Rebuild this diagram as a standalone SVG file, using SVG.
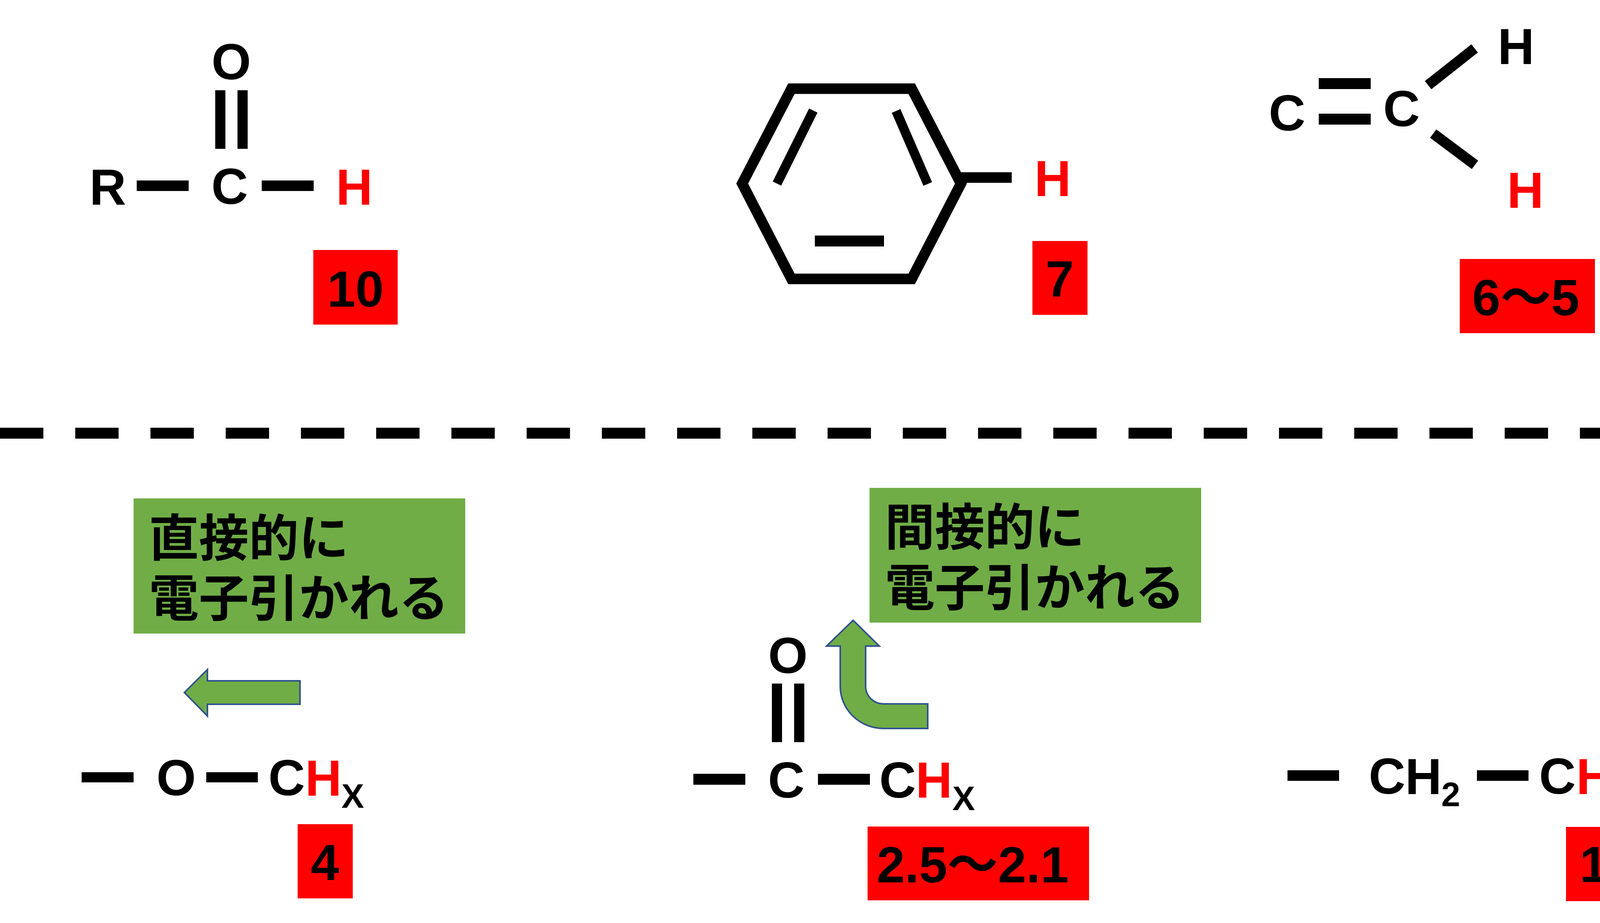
<svg xmlns="http://www.w3.org/2000/svg" width="4344" height="2363" viewBox="0 0 4344 2363">
<style>
.t{font-family:"Liberation Sans",Arial,"Noto Sans CJK JP",sans-serif;font-weight:bold;font-size:130px;fill:#000;text-anchor:middle}
.r{fill:#FF0000}
.sub{font-size:87px}
.jp{font-family:"Noto Sans CJK JP",sans-serif;font-weight:bold;font-size:128px;fill:#000}
.bond{fill:#000}
.box{fill:#FF0000}
.gbox{fill:#70AD47}
.arrow{fill:#70AD47;stroke:#2F528F;stroke-width:4;stroke-linejoin:miter}
</style>
<rect width="4344" height="2363" fill="#fff"/>

<g id="aldehyde">
<text class="t" x="592" y="203">O</text>
<rect class="bond" x="551" y="231" width="26" height="150"/>
<rect class="bond" x="608" y="231" width="26" height="150"/>
<text class="t" x="276" y="524">R</text>
<rect class="bond" x="350" y="462" width="133" height="27"/>
<text class="t" x="588" y="522">C</text>
<rect class="bond" x="670" y="462" width="133" height="27"/>
<text class="t r" x="907" y="524">H</text>
</g>
<g id="val10">
<rect class="box" x="802" y="640" width="216" height="191"/>
<text class="t" x="910" y="785">10</text>
</g>

<g id="benzene">
<polygon points="2026,227 2334,227 2460,470 2334,714 2026,714 1900,470" fill="none" stroke="#000" stroke-width="27" stroke-miterlimit="10"/>
<line x1="2082" y1="283" x2="1989" y2="470" stroke="#000" stroke-width="24"/>
<line x1="2294" y1="284" x2="2375" y2="471" stroke="#000" stroke-width="24"/>
<rect class="bond" x="2086" y="603" width="177" height="28"/>
<rect class="bond" x="2458" y="441" width="132" height="27"/>
<text class="t r" x="2695" y="502">H</text>
</g>
<g id="val7">
<rect class="box" x="2643" y="617" width="141" height="189"/>
<text class="t" x="2713" y="759">7</text>
</g>

<g id="vinyl">
<text class="t" x="3295" y="334">C</text>
<rect class="bond" x="3376" y="200" width="133" height="28"/>
<rect class="bond" x="3376" y="291" width="133" height="28"/>
<text class="t" x="3588" y="323">C</text>
<line x1="3656" y1="218" x2="3775" y2="124" stroke="#000" stroke-width="27"/>
<line x1="3669" y1="342" x2="3776" y2="422" stroke="#000" stroke-width="27"/>
<text class="t" x="3881" y="164">H</text>
<text class="t r" x="3905" y="532">H</text>
</g>
<g id="val65">
<rect class="box" x="3737" y="663" width="346" height="190"/>
<text class="t" x="3906" y="807">6～5</text>
</g>

<g id="divider">
<line x1="0" y1="1109" x2="4332" y2="1109" stroke="#000" stroke-width="28" stroke-dasharray="111 81.6"/>
</g>

<g id="note-direct">
<rect class="gbox" x="342" y="1276" width="849" height="346"/>
<text class="jp" x="381" y="1424">直接的に</text>
<text class="jp" x="381" y="1578">電子引かれる</text>
</g>

<g id="note-indirect">
<rect class="gbox" x="2226" y="1249" width="849" height="345"/>
<text class="jp" x="2265" y="1396">間接的に</text>
<text class="jp" x="2265" y="1551">電子引かれる</text>
</g>

<g id="connectors">
<polygon class="arrow" points="472,1773 531,1714 531,1743 768,1743 768,1803 531,1803 531,1833"/>
<path class="arrow" d="M2184,1588 L2251,1654 L2216,1654 L2216,1757 A46,45 0 0 0 2262,1802 L2375,1802 L2375,1865 L2262,1865 A111,108 0 0 1 2151,1757 L2151,1654 L2116,1654 Z"/>
</g>

<g id="ether">
<rect class="bond" x="209" y="1977" width="133" height="26"/>
<text class="t" x="451" y="2036">O</text>
<rect class="bond" x="528" y="1977" width="132" height="26"/>
<text class="t"><tspan x="734" y="2036">C</tspan><tspan class="r" x="828" y="2037">H</tspan><tspan class="sub" x="903" y="2068">X</tspan></text>
</g>
<g id="val4">
<rect class="box" x="762" y="2110" width="141" height="190"/>
<text class="t" x="832" y="2253">4</text>
</g>

<g id="ketone">
<text class="t" x="2017" y="1723">O</text>
<rect class="bond" x="1976" y="1750" width="26" height="150"/>
<rect class="bond" x="2033" y="1750" width="26" height="150"/>
<rect class="bond" x="1775" y="1981" width="133" height="28"/>
<text class="t" x="2013" y="2042">C</text>
<rect class="bond" x="2094" y="1981" width="133" height="28"/>
<text class="t"><tspan x="2298" y="2042">C</tspan><tspan class="r" x="2391" y="2042">H</tspan><tspan class="sub" x="2467" y="2074">X</tspan></text>
</g>
<g id="val25">
<rect class="box" x="2221" y="2116" width="567" height="189"/>
<text class="t" x="2490" y="2259">2.5～2.1</text>
</g>

<g id="alkyl">
<rect class="bond" x="3296" y="1972" width="132" height="27"/>
<text class="t"><tspan x="3551" y="2032">C</tspan><tspan x="3644" y="2033">H</tspan><tspan class="sub" x="3714" y="2064">2</tspan></text>
<rect class="bond" x="3781" y="1972" width="132" height="27"/>
<text class="t"><tspan x="3987" y="2032">C</tspan><tspan class="r" x="4082" y="2033">H</tspan><tspan class="sub" x="4157" y="2064">X</tspan></text>
</g>
<g id="val1">
<rect class="box" x="4009" y="2117" width="142" height="190"/>
<text class="t" x="4080" y="2258">1</text>
</g>
</svg>
